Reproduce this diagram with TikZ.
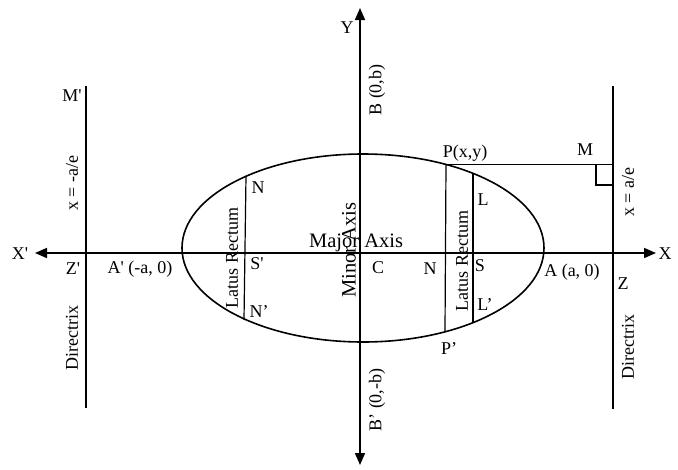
\documentclass[tikz,border=0pt]{standalone}
\usepackage{fontspec}
\newfontfamily\lab{Liberation Serif}
\usetikzlibrary{arrows.meta}
\tikzset{
  lbl/.style={inner sep=0pt, font=\lab\fontsize{18}{20}\selectfont},
  biglbl/.style={inner sep=0pt, font=\lab\fontsize{20.5}{22}\selectfont},
  axisline/.style={line width=1.7pt, -{Triangle[length=12pt,width=10pt]}},
  dirline/.style={line width=1.8pt},
  curve/.style={line width=1.6pt},
  thinline/.style={line width=1.2pt},
  thickline/.style={line width=2.8pt},
}
\begin{document}
\begin{tikzpicture}[x=1pt,y=-1pt]
\useasboundingbox (0,0) rectangle (678,469);
% key points
\coordinate (C) at (360,253);
\coordinate (Ytop) at (360,8);
\coordinate (Ybot) at (360,465);
\coordinate (Xl) at (35,253);
\coordinate (Xr) at (656,253);
\coordinate (D1t) at (86,86);
\coordinate (D1b) at (86,408);
\coordinate (D2t) at (613,86);
\coordinate (D2b) at (613,409);
\coordinate (P) at (446,164.5);
\coordinate (Pp) at (445,331.5);
\coordinate (M) at (613,164.5);
\coordinate (L) at (473,174);
\coordinate (Lp) at (473,322);
\coordinate (Nt) at (246,176);
\coordinate (Nb) at (244,320);
\coordinate (R1) at (596,164.5);
\coordinate (R2) at (596,185);
\coordinate (R3) at (613,185);
% axes
\draw[axisline] (C) -- (Ytop);
\draw[axisline] (C) -- (Ybot);
\draw[axisline] (C) -- (Xl);
\draw[axisline] (C) -- (Xr);
% directrices
\draw[dirline] (D1t) -- (D1b);
\draw[dirline] (D2t) -- (D2b);
% ellipse
\draw[curve] (363,248) ellipse [x radius=181, y radius=94];
% chords
\draw[thinline] (Nt) -- (Nb);
\draw[thinline] (P) -- (Pp);
\draw[thickline] (L) -- (Lp);
\draw[thinline] (P) -- (M);
\draw[thinline] (R1) -- (R2) -- (R3);
% labels
\node[lbl] (tY) at (347,28) {Y};
\node[lbl, rotate=90] (tB) at (377,90) {B (0,b)};
\node[lbl] (tMp) at (72,96) {M'};
\node[lbl, rotate=90] (tx1) at (72,183) {x = -a/e};
\node[lbl] (tXp) at (20,254) {X'};
\node[lbl] (tZp) at (73,269) {Z'};
\node[lbl] (tAp) at (140,269) {A' (-a, 0)};
\node[lbl, rotate=90] (tD1) at (72,338) {Directrix};
\node[lbl, rotate=90] (tLR1) at (232,258) {Latus Rectum};
\node[lbl] (tN1) at (258,188) {N};
\node[lbl] (tSp) at (257,264) {S'};
\node[lbl] (tN1p) at (259,312) {N’};
\node[biglbl] (tMaj) at (356,243) {Major Axis};
\node[biglbl, rotate=90] (tMin) at (349,250) {Minor Axis};
\node[lbl] (tC) at (378,268) {C};
\node[lbl] (tN2) at (430,269) {N};
\node[lbl] (tP) at (465,153) {P(x,y)};
\node[lbl] (tM) at (585,150) {M};
\node[lbl] (tL) at (483,200) {L};
\node[lbl, rotate=90] (tLR2) at (462,261) {Latus Rectum};
\node[lbl] (tS) at (480,266) {S};
\node[lbl] (tA) at (572,272) {A (a, 0)};
\node[lbl] (tZ) at (623,284) {Z};
\node[lbl, rotate=90] (tx2) at (628,192) {x = a/e};
\node[lbl, rotate=90] (tD2) at (628,347) {Directrix};
\node[lbl] (tLp) at (485,305) {L’};
\node[lbl] (tPp) at (449,349) {P’};
\node[lbl, rotate=90] (tBp) at (377,400) {B’ (0,-b)};
\node[lbl] (tX) at (665,254) {X};
\end{tikzpicture}
\end{document}
